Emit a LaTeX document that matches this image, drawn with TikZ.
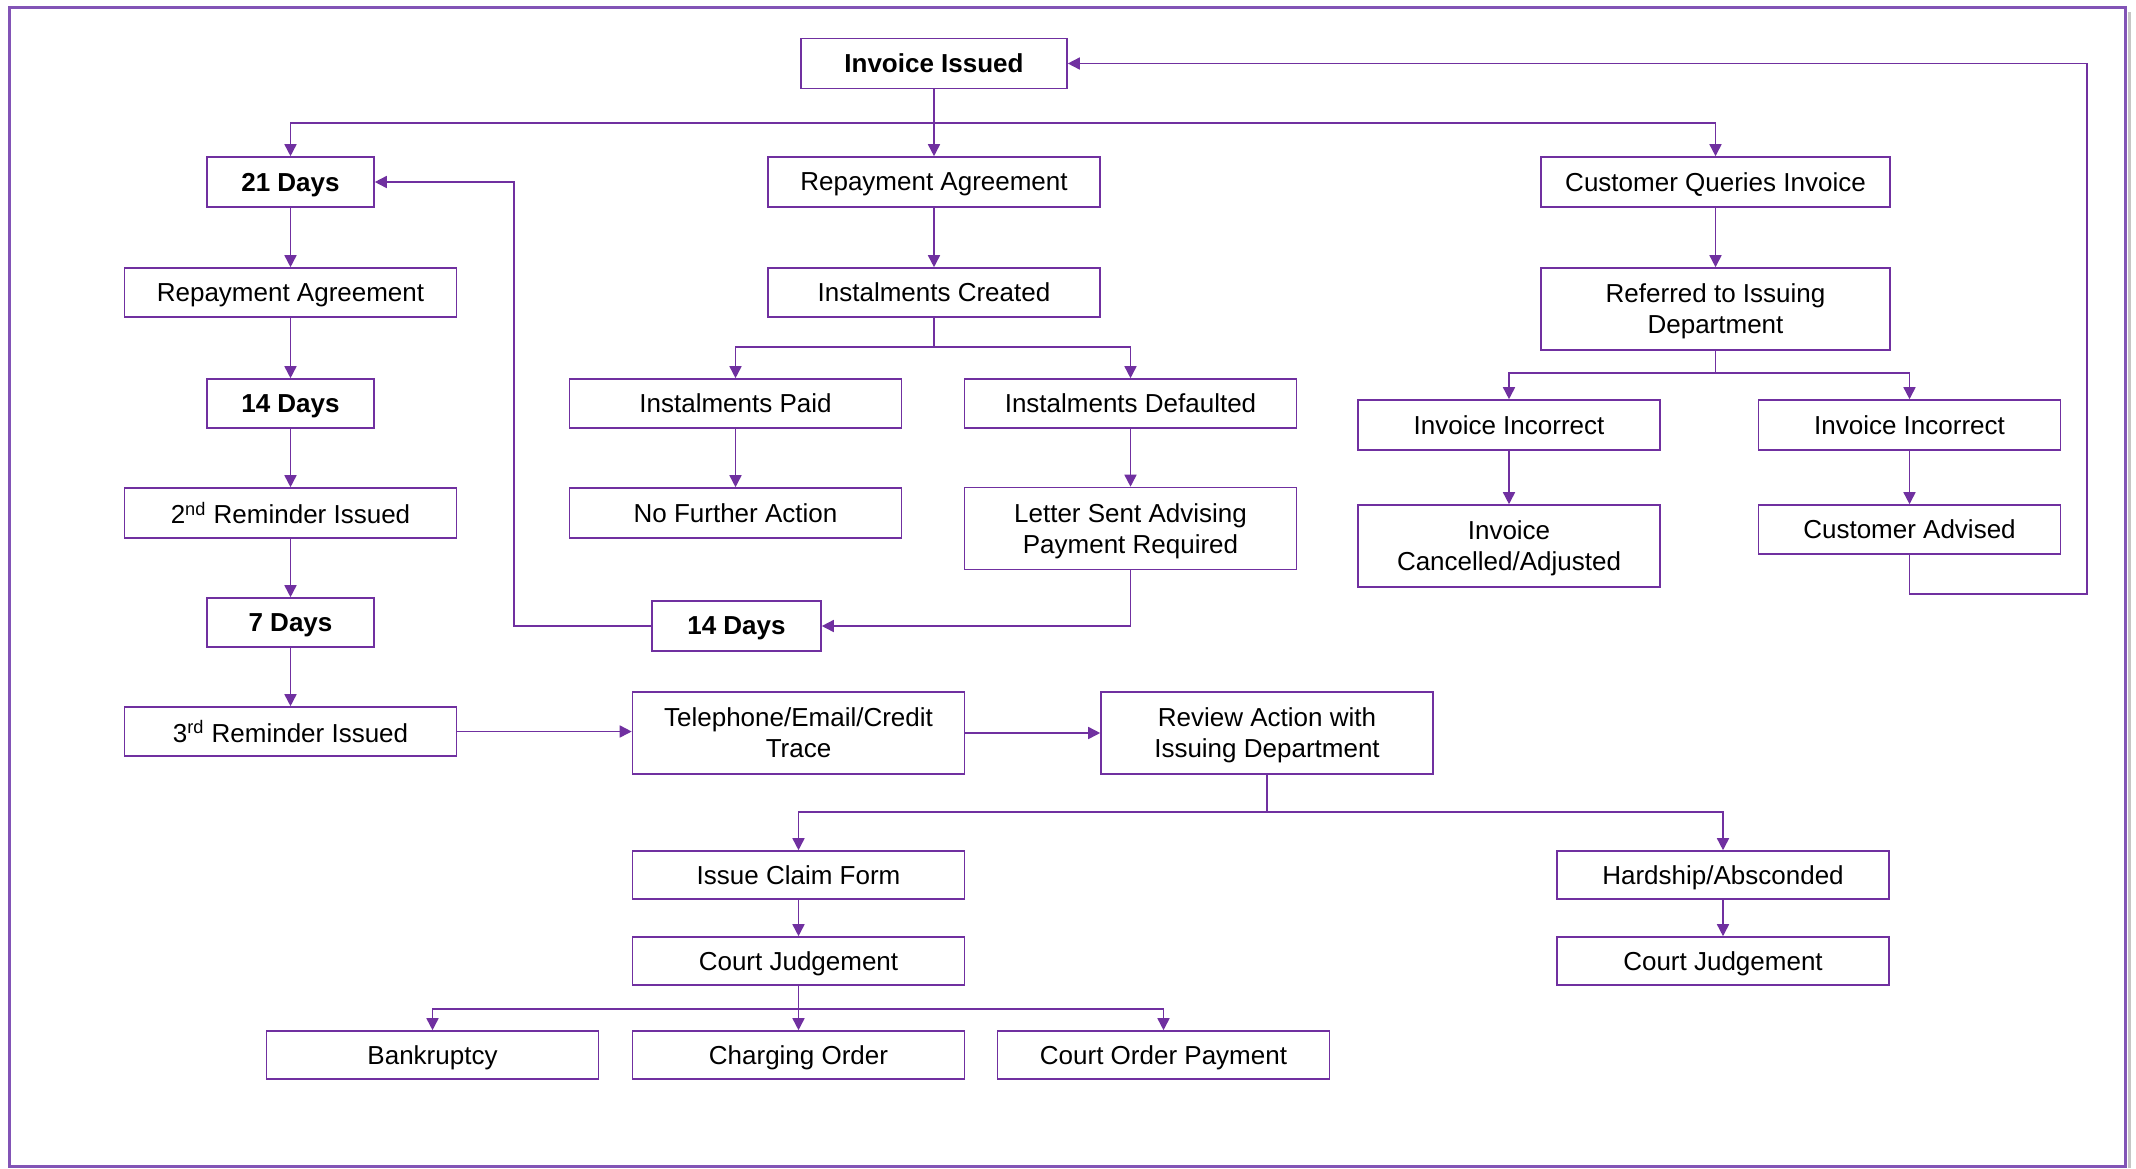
\documentclass[tikz,border=0pt]{standalone}
\usepackage{fontspec}
\setmainfont{Liberation Sans}
\usetikzlibrary{arrows.meta}
\definecolor{pur}{RGB}{112,48,160}
\definecolor{framec}{RGB}{130,84,182}
\begin{document}
\begin{tikzpicture}[x=0.5pt,y=-0.5pt,
 box/.style={draw=pur, line width=0.8pt, fill=white, inner sep=0pt, align=center,
   font=\fontsize{13}{15.5}\selectfont, text=black, minimum height=24.5pt, text depth=0pt},
 wbox/.style={box, minimum width=166pt},
 sbox/.style={box, minimum width=83.5pt},
 qbox/.style={box, minimum width=174.5pt},
 ibox/.style={box, minimum width=151pt},
 tall/.style={minimum height=41pt},
 conn/.style={draw=pur, line width=0.8pt},
 arr/.style={conn, -{Triangle[length=6pt,width=6pt]}},
]
\fill[white] (0,0) rectangle (2136,1168);
\useasboundingbox (0,0) rectangle (2136,1168);
% frame
\draw[gray!45, line width=1.5pt] (2129.5,12) -- (2129.5,1168);
\draw[framec, line width=1.4pt] (9.5,7.5) rectangle (2125.5,1166.5);

% nodes
\node[box, minimum width=133pt, minimum height=25pt] (inv) at (934,63.5) {\textbf{Invoice Issued}};
\node[sbox, minimum height=25pt] (d21) at (290.5,182) {\textbf{21 Days}};
\node[wbox, minimum height=25pt] (rac) at (934,182) {Repayment Agreement};
\node[qbox, minimum height=25pt] (cq) at (1715.5,182) {Customer Queries Invoice};
\node[wbox] (ral) at (290.5,292.5) {Repayment Agreement};
\node[wbox] (ic) at (934,292.5) {Instalments Created};
\node[qbox, tall] (ref) at (1715.5,309) {Referred to Issuing\\Department};
\node[sbox] (d14l) at (290.5,403.5) {\textbf{14 Days}};
\node[wbox] (ipaid) at (735.5,403.5) {Instalments Paid};
\node[wbox] (idef) at (1130.5,403.5) {Instalments Defaulted};
\node[ibox, minimum height=25pt] (inc1) at (1509,425) {Invoice Incorrect};
\node[ibox, minimum height=25pt] (inc2) at (1909.5,425) {Invoice Incorrect};
\node[wbox, minimum height=25pt] (rem2) at (290.5,513) {2\textsuperscript{nd} Reminder Issued};
\node[wbox, minimum height=25pt] (nfa) at (735.5,513) {No Further Action};
\node[wbox, tall] (letter) at (1130.5,528.5) {Letter Sent Advising\\Payment Required};
\node[ibox, tall] (canc) at (1509,546) {Invoice\\Cancelled/Adjusted};
\node[ibox] (cadv) at (1909.5,529.5) {Customer Advised};
\node[sbox] (d7) at (290.5,622.5) {\textbf{7 Days}};
\node[box, minimum width=84.5pt, minimum height=25pt] (d14m) at (736.5,626) {\textbf{14 Days}};
\node[wbox] (rem3) at (290.5,731.5) {3\textsuperscript{rd} Reminder Issued};
\node[wbox, tall] (tel) at (798.5,733) {Telephone/Email/Credit\\Trace};
\node[wbox, tall] (rev) at (1267,733) {Review Action with\\Issuing Department};
\node[wbox, minimum height=24pt] (claim) at (798.5,875) {Issue Claim Form};
\node[wbox, minimum height=24pt] (hard) at (1723,875) {Hardship/Absconded};
\node[wbox, minimum height=24pt] (cj1) at (798.5,961) {Court Judgement};
\node[wbox, minimum height=24pt] (cj2) at (1723,961) {Court Judgement};
\node[wbox, minimum height=24pt] (bank) at (432.5,1055) {Bankruptcy};
\node[wbox, minimum height=24pt] (charge) at (798.5,1055) {Charging Order};
\node[wbox, minimum height=24pt] (cop) at (1163.5,1055) {Court Order Payment};

% bus points
\coordinate (bus1) at (934,123);
\coordinate (bus2) at (934,347);
\coordinate (bus3) at (1715.5,373);
\coordinate (bus4) at (1267,812);
\coordinate (bus5) at (798.5,1009);
\coordinate (lp1) at (514,182);
\coordinate (lp2) at (2087,594);

% connectors
\draw[arr] (inv.south) -- (rac.north);
\draw[arr] (bus1) -| (d21.north);
\draw[arr] (bus1) -| (cq.north);

\draw[arr] (d21.south) -- (ral.north);
\draw[arr] (ral.south) -- (d14l.north);
\draw[arr] (d14l.south) -- (rem2.north);
\draw[arr] (rem2.south) -- (d7.north);
\draw[arr] (d7.south) -- (rem3.north);
\draw[arr] (rem3.east) -- (rem3.east -| tel.west);
\draw[arr] (tel.east) -- (rev.west);

\draw[arr] (rac.south) -- (ic.north);
\draw[conn] (ic.south) -- (bus2);
\draw[arr] (bus2) -| (ipaid.north);
\draw[arr] (bus2) -| (idef.north);
\draw[arr] (ipaid.south) -- (nfa.north);
\draw[arr] (idef.south) -- (letter.north);
\draw[arr] (letter.south) |- (d14m.east);
\draw[arr] (d14m.west) -| (lp1) -- (d21.east);

\draw[arr] (cq.south) -- (ref.north);
\draw[conn] (ref.south) -- (bus3);
\draw[arr] (bus3) -| (inc1.north);
\draw[arr] (bus3) -| (inc2.north);
\draw[arr] (inc1.south) -- (canc.north);
\draw[arr] (inc2.south) -- (cadv.north);
\draw[arr] (cadv.south) |- (lp2) |- (inv.east);

\draw[conn] (rev.south) -- (bus4);
\draw[arr] (bus4) -| (claim.north);
\draw[arr] (bus4) -| (hard.north);
\draw[arr] (claim.south) -- (cj1.north);
\draw[arr] (hard.south) -- (cj2.north);
\draw[arr] (cj1.south) -- (charge.north);
\draw[arr] (bus5) -| (bank.north);
\draw[arr] (bus5) -| (cop.north);
\end{tikzpicture}
\end{document}
